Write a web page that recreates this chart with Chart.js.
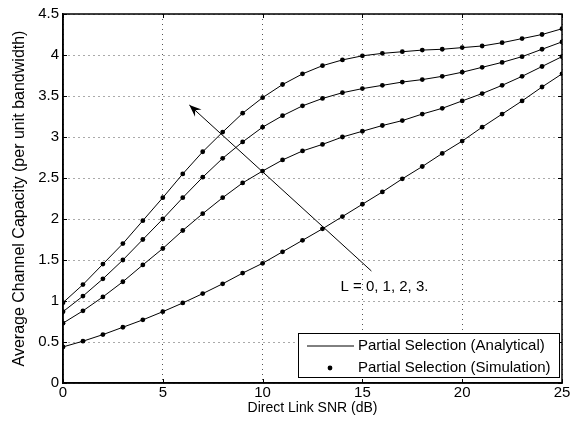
<!DOCTYPE html>
<html>
<head>
<meta charset="utf-8">
<script src="https://cdn.jsdelivr.net/npm/chart.js@4"></script>
<style>
html,body{margin:0;padding:0;background:#fff;}
#wrap{width:575px;height:422px;}
</style>
</head>
<body>
<div id="wrap"><canvas id="c" width="575" height="422"></canvas></div>
<script>
const snr = [0,1,2,3,4,5,6,7,8,9,10,11,12,13,14,15,16,17,18,19,20,21,22,23,24,25];
const capL3 = [0.98,1.20,1.45,1.70,1.98,2.26,2.55,2.82,3.06,3.29,3.48,3.64,3.77,3.87,3.94,3.99,4.02,4.04,4.06,4.07,4.09,4.11,4.15,4.20,4.25,4.32];
const capL2 = [0.87,1.06,1.27,1.50,1.75,2.00,2.26,2.51,2.74,2.94,3.12,3.26,3.38,3.47,3.54,3.59,3.63,3.67,3.70,3.74,3.79,3.85,3.91,3.98,4.07,4.16];
const capL1 = [0.73,0.88,1.05,1.235,1.44,1.64,1.86,2.065,2.26,2.44,2.585,2.72,2.83,2.91,3.00,3.07,3.14,3.20,3.28,3.35,3.44,3.53,3.63,3.74,3.86,3.98];
const capL0 = [0.44,0.51,0.59,0.68,0.77,0.87,0.976,1.09,1.21,1.34,1.46,1.60,1.74,1.88,2.03,2.18,2.33,2.49,2.64,2.80,2.95,3.12,3.28,3.44,3.61,3.77];
const xTicks = [0,5,10,15,20,25];
const yTicks = [0,0.5,1,1.5,2,2.5,3,3.5,4,4.5];
const legendLabels = ['Partial Selection (Analytical)','Partial Selection (Simulation)'];
const arrowFrom = {x:15.45, y:1.366};
const arrowTo = {x:6.33, y:3.39};
const noteText = 'L = 0, 1, 2, 3.';
const notePos = {x:13.9, y:1.17};

const FONT = '"Liberation Sans", Arial, Helvetica, sans-serif';

function mk(data){
  return {
    data: snr.map((x,i)=>({x:x,y:data[i]})),
    borderColor:'#000', backgroundColor:'#000', borderWidth:1,
    pointRadius:2.4, pointBackgroundColor:'#000', pointBorderWidth:0,
    tension:0, fill:false
  };
}

const overlay = {
  id:'overlay',
  afterDraw(chart){
    const ctx = chart.ctx, a = chart.chartArea;
    const xs = chart.scales.x, ys = chart.scales.y;
    ctx.save();
    // box
    ctx.strokeStyle='#000'; ctx.lineWidth=1.5;
    ctx.strokeRect(a.left, a.top, a.right-a.left, a.bottom-a.top);
    // inward ticks
    ctx.lineWidth=1;
    xTicks.forEach(v=>{
      const px = Math.round(xs.getPixelForValue(v))+0.5;
      ctx.beginPath(); ctx.moveTo(px,a.bottom); ctx.lineTo(px,a.bottom-4);
      ctx.moveTo(px,a.top); ctx.lineTo(px,a.top+4); ctx.stroke();
    });
    yTicks.forEach(v=>{
      const py = Math.round(ys.getPixelForValue(v))+0.5;
      ctx.beginPath(); ctx.moveTo(a.left,py); ctx.lineTo(a.left+4,py);
      ctx.moveTo(a.right,py); ctx.lineTo(a.right-4,py); ctx.stroke();
    });
    // arrow
    const x1 = xs.getPixelForValue(arrowFrom.x), y1 = ys.getPixelForValue(arrowFrom.y);
    const x2 = xs.getPixelForValue(arrowTo.x), y2 = ys.getPixelForValue(arrowTo.y);
    ctx.lineWidth=1;
    ctx.beginPath(); ctx.moveTo(x1,y1); ctx.lineTo(x2,y2); ctx.stroke();
    const ang = Math.atan2(y2-y1, x2-x1);
    const L=13, W=0.38;
    ctx.beginPath();
    ctx.moveTo(x2,y2);
    ctx.lineTo(x2 - L*Math.cos(ang-W), y2 - L*Math.sin(ang-W));
    ctx.lineTo(x2 - 0.6*L*Math.cos(ang), y2 - 0.6*L*Math.sin(ang));
    ctx.lineTo(x2 - L*Math.cos(ang+W), y2 - L*Math.sin(ang+W));
    ctx.closePath(); ctx.fillStyle='#000'; ctx.fill();
    // note
    ctx.font = '15px '+FONT; ctx.fillStyle='#000';
    ctx.textAlign='left'; ctx.textBaseline='middle';
    ctx.fillText(noteText, xs.getPixelForValue(notePos.x), ys.getPixelForValue(notePos.y));
    // legend
    const lx = a.right - 264, ly = a.bottom - 50, lw = 261, lh = 44;
    ctx.fillStyle='#fff'; ctx.fillRect(lx,ly,lw,lh);
    ctx.strokeStyle='#000'; ctx.lineWidth=1;
    ctx.strokeRect(lx+0.5,ly+0.5,lw,lh);
    ctx.fillStyle='#000';
    const r1 = ly+13, r2 = ly+35;
    ctx.beginPath(); ctx.moveTo(lx+9,r1); ctx.lineTo(lx+56,r1); ctx.stroke();
    ctx.beginPath(); ctx.arc(lx+32,r2,2.4,0,Math.PI*2); ctx.fill();
    ctx.font='15px '+FONT; ctx.textAlign='left'; ctx.textBaseline='middle';
    ctx.fillText(legendLabels[0], lx+60, r1);
    ctx.fillText(legendLabels[1], lx+60, r2);
    ctx.restore();
  }
};

new Chart(document.getElementById('c'), {
  type:'line',
  data:{ datasets:[mk(capL3),mk(capL2),mk(capL1),mk(capL0)] },
  options:{
    responsive:false, animation:false, devicePixelRatio:1,
    layout:{padding:{top:14,right:13,left:0,bottom:0}},
    plugins:{legend:{display:false}, tooltip:{enabled:false}},
    scales:{
      x:{
        type:'linear', min:0, max:25,
        afterBuildTicks(s){ s.ticks = xTicks.map(v=>({value:v})); },
        afterFit(s){ s.height = 39; },
        ticks:{color:'#000', font:{family:FONT,size:15}, padding:1, maxRotation:0,
               callback:(v)=>String(v)},
        grid:{color:'#555', lineWidth:1, drawTicks:false},
        border:{display:true, color:'#000', width:1.5, dash:[1,4]},
        title:{display:true, text:'Direct Link SNR (dB)', color:'#000',
               font:{family:FONT,size:14}, padding:{top:0,bottom:5}}
      },
      y:{
        type:'linear', min:0, max:4.5,
        afterBuildTicks(s){ s.ticks = yTicks.map(v=>({value:v})); },
        afterFit(s){ s.width = 63; },
        ticks:{color:'#000', font:{family:FONT,size:15}, padding:4,
               callback:(v)=>String(v)},
        grid:{color:'#555', lineWidth:1, drawTicks:false},
        border:{display:true, color:'#000', width:1.5, dash:[1,4]},
        title:{display:true, text:'Average Channel Capacity (per unit bandwidth)', color:'#000',
               font:{family:FONT,size:16}, padding:{top:10,bottom:0}}
      }
    }
  },
  plugins:[overlay]
});
</script>
</body>
</html>
